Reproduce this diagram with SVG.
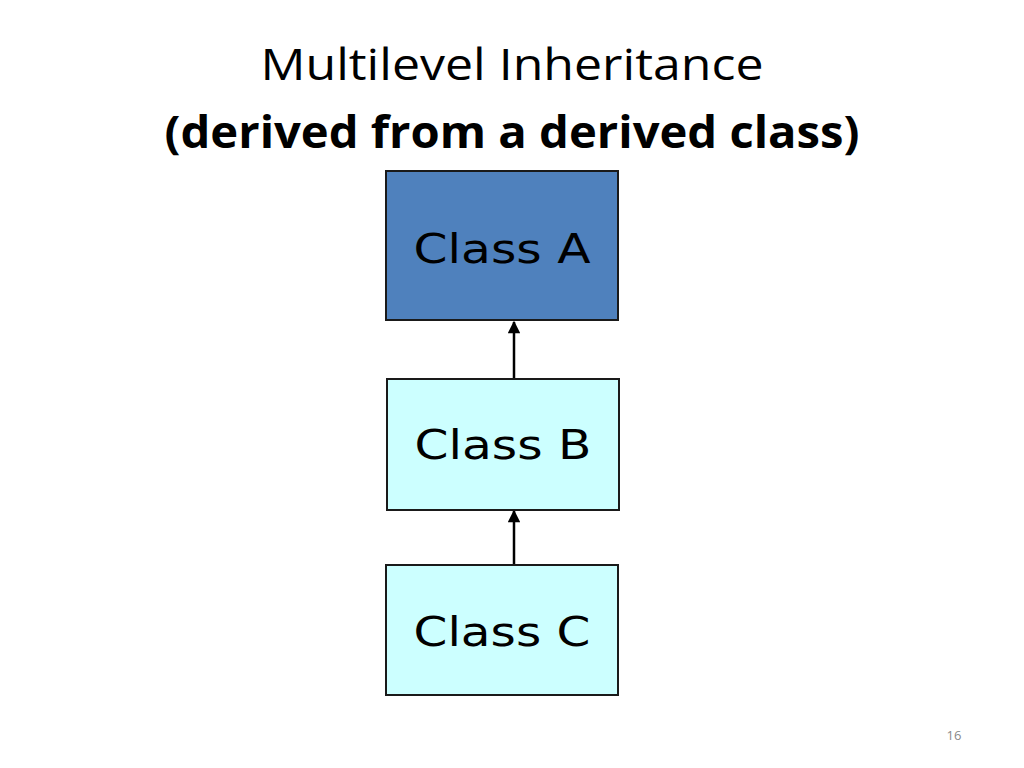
<svg xmlns="http://www.w3.org/2000/svg" width="1024" height="768" viewBox="0 0 1024 768">
<style>
.title{font-family:"Open Sans","Noto Sans",sans-serif;fill:#000;text-anchor:middle}
.box{stroke:#1a1a1a;stroke-width:2}
.lbl{font-family:"DejaVu Sans","Noto Sans",sans-serif;font-size:41px;fill:#000;text-anchor:middle}
.edge{stroke:#000;stroke-width:2.5;fill:none}
</style>
<defs>
<marker id="arr" viewBox="0 0 10 10" refX="9" refY="5" markerWidth="5.5" markerHeight="5" orient="auto" markerUnits="strokeWidth">
<path d="M0,0 L10,5 L0,10 z" fill="#000"/>
</marker>
</defs>
<rect width="1024" height="768" fill="#fff"/>
<text class="title" x="512" y="80" font-size="44" textLength="503" lengthAdjust="spacingAndGlyphs">Multilevel Inheritance</text>
<text class="title" x="512" y="148" font-size="44" font-weight="bold" textLength="695" lengthAdjust="spacingAndGlyphs">(derived from a derived class)</text>
<g id="connectors">
<line class="edge" x1="514" y1="378" x2="514" y2="322" marker-end="url(#arr)"/>
<line class="edge" x1="514" y1="564" x2="514" y2="511" marker-end="url(#arr)"/>
</g>
<g id="classA">
<rect class="box" x="386" y="171" width="232" height="149" fill="#4f81bd"/>
<text class="lbl" x="502" y="263" textLength="177" lengthAdjust="spacingAndGlyphs">Class A</text>
</g>
<g id="classB">
<rect class="box" x="387" y="379" width="232" height="131" fill="#ccffff"/>
<text class="lbl" x="503" y="459" textLength="177" lengthAdjust="spacingAndGlyphs">Class B</text>
</g>
<g id="classC">
<rect class="box" x="386" y="565" width="232" height="130" fill="#ccffff"/>
<text class="lbl" x="502" y="646" textLength="177" lengthAdjust="spacingAndGlyphs">Class C</text>
</g>
<text x="954" y="740" font-family="Open Sans,sans-serif" font-size="13" fill="#8a8a8a" text-anchor="middle">16</text>
</svg>
